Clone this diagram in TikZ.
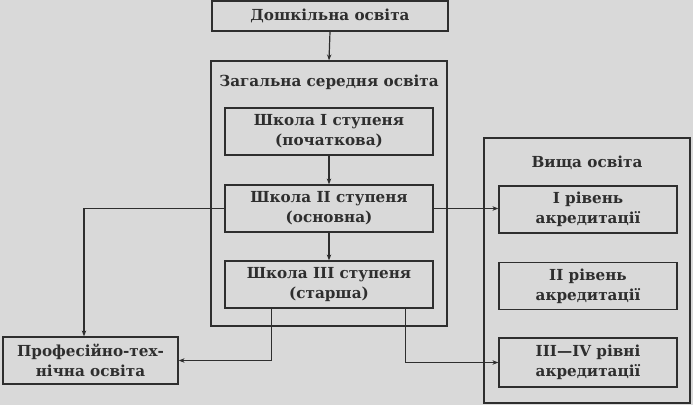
\documentclass[tikz,border=0pt]{standalone}
\usepackage{fontspec}
\setmainfont{DejaVu Serif}
\usetikzlibrary{arrows.meta}
\definecolor{paper}{HTML}{D9D9D9}
\definecolor{ink}{HTML}{2E2E2E}
\begin{document}
\begin{tikzpicture}[x=1pt,y=-1pt,
  box/.style={draw=ink,line width=1.2pt,rectangle,inner sep=0pt,align=center,text=ink,
    font=\fontsize{15.2}{20}\selectfont\bfseries},
  frame/.style={draw=ink,line width=1.2pt,rectangle,inner sep=0pt},
  ttl/.style={text=ink,font=\fontsize{15.2}{20}\selectfont\bfseries,inner sep=0pt},
  conn/.style={draw=ink,line width=1.2pt},
  arr/.style={conn,-{Stealth[length=6pt,width=4.5pt]}}]
\fill[paper] (0,0) rectangle (693,405);
\useasboundingbox (0,0) rectangle (693,405);
% top
\node[box,minimum width=236pt,minimum height=30pt] (pre) at (330,16) {Дошкільна освіта};
% general secondary
\node[frame,minimum width=236pt,minimum height=265pt] (gen) at (329,193.5) {};
\node[ttl] (gent) at (329,82) {Загальна середня освіта};
\node[box,minimum width=208pt,minimum height=47pt] (s1) at (329,131.5) {Школа I ступеня\\(початкова)};
\node[box,minimum width=208pt,minimum height=47pt] (s2) at (329,208.5) {Школа II ступеня\\(основна)};
\node[box,minimum width=208pt,minimum height=47pt] (s3) at (329,284.5) {Школа III ступеня\\(старша)};
% vocational
\node[box,minimum width=175pt,minimum height=47pt] (prof) at (90.5,360.5) {Професійно-тех-\\нічна освіта};
% higher
\node[frame,minimum width=206pt,minimum height=265pt] (high) at (587,270.5) {};
\node[ttl] (hight) at (587,163) {Вища освіта};
\node[box,minimum width=178pt,minimum height=47pt] (l1) at (588,209.5) {I рівень\\акредитації};
\node[box,minimum width=178pt,minimum height=47pt] (l2) at (588,286) {II рівень\\акредитації};
\node[box,minimum width=178pt,minimum height=49pt] (l3) at (588,362.5) {III—IV рівні\\акредитації};
% connectors
\draw[arr] (pre.south) -- (gen.north);
\draw[arr] (s1.south) -- (s2.north);
\draw[arr] (s2.south) -- (s3.north);
\draw[arr] (s2.west) -| ([xshift=-6.5pt]prof.north);
\draw[arr] ([xshift=47pt]s3.south west) |- (prof.east);
\draw[arr] ([xshift=-28pt]s3.south east) |- (l3.west);
\draw[arr] (s2.east) -- (s2.east -| l1.west);
\end{tikzpicture}
\end{document}
